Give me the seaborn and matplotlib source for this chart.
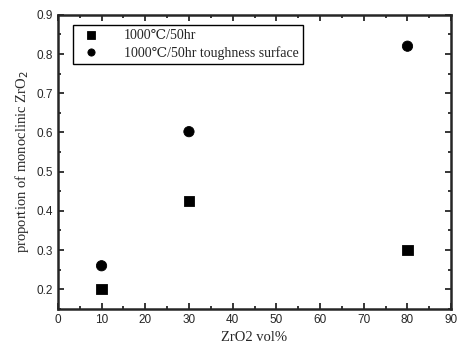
import pandas as pd
import matplotlib
matplotlib.use("Agg")
import matplotlib.pyplot as plt
from matplotlib.ticker import MultipleLocator
import seaborn as sns

# ─── DATA ───────────────────────────────────────────────────────────────────────
zro2_vol = [10, 30, 80]
bulk_50hr = [0.20, 0.425, 0.30]
surface_50hr = [0.26, 0.602, 0.82]
series_names = ["1000\u2103/50hr", "1000\u2103/50hr toughness surface"]
y_ticks = [0.2, 0.3, 0.4, 0.5, 0.6, 0.7, 0.8, 0.9]

df = pd.DataFrame({
    "x": zro2_vol * 2,
    "y": bulk_50hr + surface_50hr,
    "series": [series_names[0]] * 3 + [series_names[1]] * 3,
})

sns.set_style("ticks")
plt.rcParams["font.family"] = ["Liberation Serif", "DejaVu Serif"]
SANS = ["Liberation Sans", "DejaVu Sans"]

fig = plt.figure(figsize=(4.59, 3.53), dpi=100)
ax = fig.add_axes([0.126, 0.125, 0.857, 0.833])

sns.scatterplot(
    data=df, x="x", y="y", style="series", hue="series",
    markers={series_names[0]: "s", series_names[1]: "o"},
    palette={series_names[0]: "black", series_names[1]: "black"},
    s=55, edgecolor="black", ax=ax,
)

ax.set_xlim(0, 90)
ax.set_ylim(0.15, 0.9)
ax.xaxis.set_minor_locator(MultipleLocator(5))
ax.yaxis.set_minor_locator(MultipleLocator(0.05))
ax.tick_params(which="both", direction="in", top=True, right=True, width=1.3)
ax.tick_params(which="major", length=4)
ax.tick_params(which="minor", length=2.5)
for sp in ax.spines.values():
    sp.set_linewidth(1.8)
    sp.set_visible(True)

ax.set_xticks(range(0, 91, 10))
ax.set_xticklabels([str(v) for v in range(0, 91, 10)], family=SANS, fontsize=8.5)
ax.set_yticks(y_ticks)
ax.set_yticklabels([f"{v:.1f}" for v in y_ticks], family=SANS, fontsize=8.5)

ax.set_xlabel("ZrO2 vol%", fontsize=10.5)
ax.set_ylabel("proportion of monoclinic ZrO$_2$", fontsize=10.5)

leg = ax.legend(loc="upper left", bbox_to_anchor=(0.02, 0.988), fontsize=10,
                frameon=True, fancybox=False, edgecolor="black",
                handletextpad=1.4, borderpad=0.3, labelspacing=0.25,
                markerscale=0.7)
leg.get_frame().set_linewidth(1.0)
leg.get_frame().set_alpha(1)

fig.savefig("out.png", dpi=100)
